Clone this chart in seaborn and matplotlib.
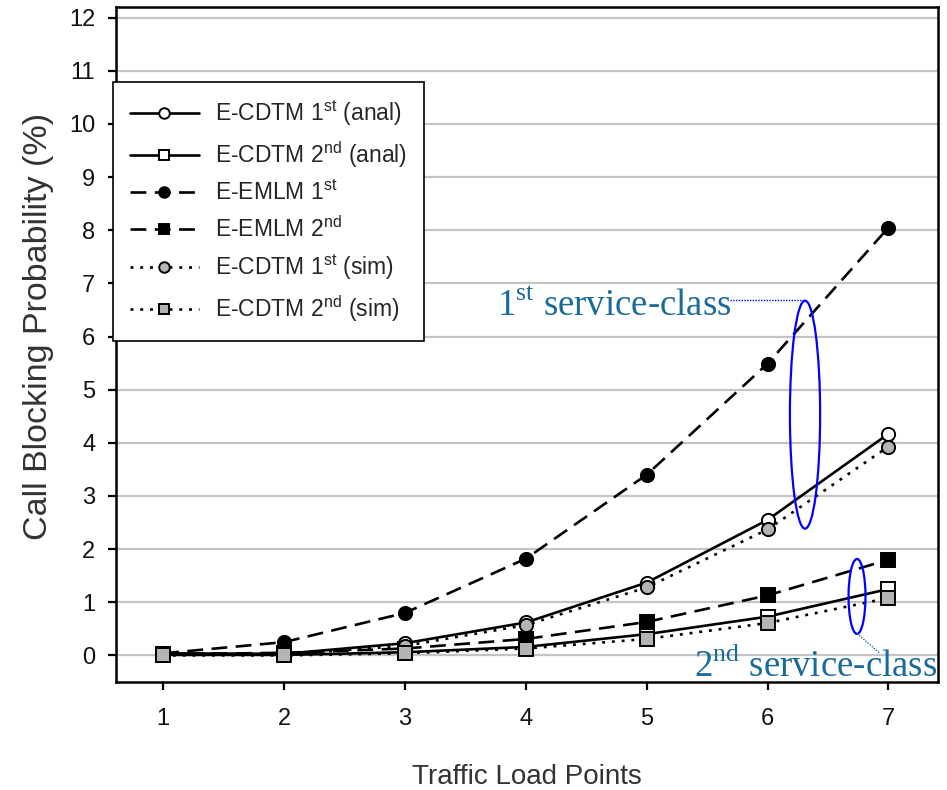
import matplotlib
matplotlib.use("Agg")
import matplotlib.pyplot as plt
from matplotlib.patches import Ellipse
import seaborn as sns
import pandas as pd

sns.set_theme(style="white")
plt.rcParams['font.family'] = ['Liberation Sans', 'DejaVu Sans']
plt.rcParams['mathtext.fontset'] = 'custom'
plt.rcParams['mathtext.rm'] = 'Liberation Serif'
plt.rcParams['mathtext.sf'] = 'Liberation Sans'

# ---- data ----
load_points = [1, 2, 3, 4, 5, 6, 7]
cdtm_1st_anal = [0.04, 0.03, 0.23, 0.62, 1.37, 2.55, 4.17]
cdtm_2nd_anal = [0.01, 0.01, 0.06, 0.16, 0.40, 0.73, 1.25]
emlm_1st = [0.04, 0.25, 0.80, 1.82, 3.40, 5.49, 8.05]
emlm_2nd = [0.02, 0.05, 0.13, 0.31, 0.63, 1.13, 1.80]
cdtm_1st_sim = [0.03, 0.02, 0.18, 0.57, 1.28, 2.37, 3.93]
cdtm_2nd_sim = [0.00, 0.00, 0.04, 0.13, 0.31, 0.61, 1.08]

series_names = [
    "E-CDTM 1$^{\\mathsf{st}}$ (anal)",
    "E-CDTM 2$^{\\mathsf{nd}}$ (anal)",
    "E-EMLM 1$^{\\mathsf{st}}$",
    "E-EMLM 2$^{\\mathsf{nd}}$",
    "E-CDTM 1$^{\\mathsf{st}}$ (sim)",
    "E-CDTM 2$^{\\mathsf{nd}}$ (sim)",
]
series_values = [cdtm_1st_anal, cdtm_2nd_anal, emlm_1st, emlm_2nd,
                 cdtm_1st_sim, cdtm_2nd_sim]
dash = (0, (6, 3.2))
dot = (0, (1.1, 2.6))
styles = [
    dict(linestyle='-', marker='o', markerfacecolor='white'),
    dict(linestyle='-', marker='s', markerfacecolor='white'),
    dict(linestyle=dash, marker='o', markerfacecolor='black'),
    dict(linestyle=dash, marker='s', markerfacecolor='black'),
    dict(linestyle=dot, marker='o', markerfacecolor='#b4b4b4'),
    dict(linestyle=dot, marker='s', markerfacecolor='#b4b4b4'),
]

fig = plt.figure(figsize=(9.47, 7.9), dpi=100)
ax = fig.add_axes([0.1225, 0.1367, 0.868, 0.8544])

for name, vals, st in zip(series_names, series_values, styles):
    df = pd.DataFrame({"x": load_points, "y": vals})
    sns.lineplot(data=df, x="x", y="y", ax=ax, color='black', linewidth=1.9,
                 markersize=9.5, markeredgecolor='black', markeredgewidth=1.4,
                 label=name, **st)

ax.set_xlim(0.61, 7.41)
ax.set_ylim(-0.5, 12.2)
ax.set_xticks(load_points)
ax.set_yticks(range(0, 13))
ax.yaxis.grid(True, color='#c4c4c4', linewidth=1.6)
ax.xaxis.grid(False)
ax.set_axisbelow(True)
for s in ax.spines.values():
    s.set_color('black')
    s.set_linewidth(1.8)
ax.tick_params(axis='both', direction='out', length=6, width=1.6, color='black',
               labelsize=17, labelcolor='#111111')
ax.tick_params(axis='y', pad=9)
ax.tick_params(axis='x', pad=13)
ax.tick_params(axis='both', bottom=True, left=True)

ax.set_xlabel("Traffic Load Points", fontsize=20, color='#333333', labelpad=24)
ax.set_ylabel("Call Blocking Probability (%)", fontsize=24.5, color='#333333')
ax.yaxis.set_label_coords(-0.076, 0.527)

leg = ax.legend(loc='upper left', bbox_to_anchor=(-0.004, 0.889), borderaxespad=0,
                fontsize=16.5, frameon=True, fancybox=False, edgecolor='black',
                framealpha=1, handlelength=3.0, handletextpad=0.7,
                labelspacing=0.48, borderpad=0.75, markerscale=0.8)
leg.get_frame().set_linewidth(1.2)
leg.set_zorder(10)

# annotations
ann_color = '#1a6b9a'
ax.add_patch(Ellipse((6.31, 4.53), 0.25, 4.29, fill=False, edgecolor='#0000ff',
                     linewidth=1.6, zorder=6))
ax.add_patch(Ellipse((6.74, 1.11), 0.14, 1.41, fill=False, edgecolor='#0000ff',
                     linewidth=1.6, zorder=6))
ax.text(3.76, 6.56, "1$^{\\mathrm{st}}$ service-class", family='Liberation Serif',
        fontsize=26.5, color=ann_color, ha='left', va='center', zorder=7)
ax.plot([5.69, 6.31], [6.68, 6.68], color='#0000ff', linestyle=(0, (1, 1)),
        linewidth=1.0, zorder=6)
ax.text(7.40, -0.41, "2$^{\\mathrm{nd}}$ service-class", family='Liberation Serif',
        fontsize=26.5, color=ann_color, ha='right', va='baseline', zorder=7)
ax.plot([6.74, 6.93], [0.41, 0.04], color=ann_color, linestyle=(0, (1, 1)),
        linewidth=1.0, zorder=6)

fig.savefig("out.png", dpi=100)
